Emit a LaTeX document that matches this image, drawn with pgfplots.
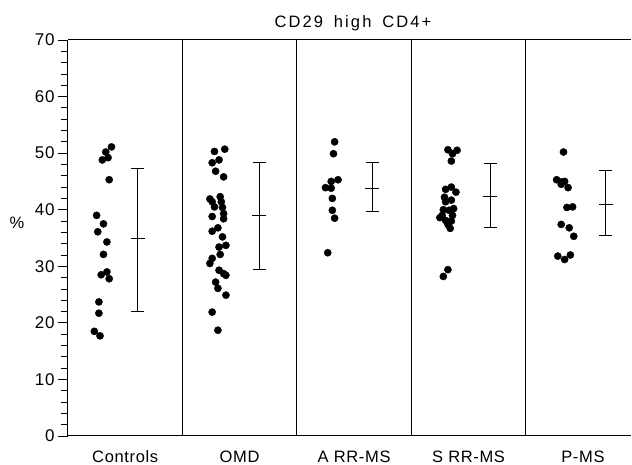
\documentclass[border=0pt]{standalone}
\usepackage{fontspec}
\setmainfont{Liberation Sans}[LetterSpace=4]
\newfontfamily\titlefont{Liberation Sans}[LetterSpace=13,WordSpace=1.6]
\usepackage{pgfplots}
\pgfplotsset{compat=1.18}
\begin{document}
\begin{tikzpicture}[x=1pt,y=1pt,font=\fontsize{16.5}{19}\selectfont]
\begin{axis}[
  scale only axis, width=563pt, height=396pt,
  xmin=0, xmax=4.92, ymin=0, ymax=70,
  axis x line*=box, axis y line*=left,
  axis line style={line width=1pt},
  xtick={0.5,1.5,2.5,3.5,4.5},
  xticklabels={Controls,OMD,A RR-MS,S RR-MS,P-MS},
  x tick style={draw=none},
  xticklabel style={anchor=base, yshift=-16.5pt, inner sep=1pt},
  extra x ticks={1,2,3,4}, extra x tick labels={},
  extra x tick style={grid=major, major grid style={black,line width=0.9pt}, major tick length=0pt},
  ytick={0,10,...,70}, minor y tick num=4,
  tick align=outside, major tick length=10pt, minor tick length=6.5pt,
  y tick style={black,line width=0.8pt},
  yticklabel style={font=\fontsize{17}{19}\selectfont},
  /pgf/number format/assume math mode=true,
  clip=false,
]
% dots
\addplot[only marks, mark=*, mark size=3.6pt, black] coordinates {
 (0.38,51.1) (0.33,50.2) (0.35,49.2) (0.30,48.8) (0.36,45.3) (0.25,39.0) (0.31,37.5)
 (0.26,36.1) (0.34,34.3) (0.31,32.1) (0.34,29.0) (0.29,28.5) (0.36,27.8) (0.27,23.7)
 (0.27,21.7) (0.23,18.5) (0.28,17.7)
};
\addplot[only marks, mark=*, mark size=3.6pt, black] coordinates {
 (1.37,50.7) (1.28,50.3) (1.32,48.8) (1.26,48.3) (1.29,46.8) (1.36,45.8) (1.33,42.3)
 (1.24,41.9) (1.26,41.4) (1.34,41.4) (1.35,40.4) (1.28,40.5) (1.36,39.3) (1.26,38.8)
 (1.36,38.4) (1.31,36.8) (1.26,36.2) (1.35,35.2) (1.38,33.7) (1.32,33.4) (1.33,32.1)
 (1.26,31.4) (1.24,30.5) (1.32,29.3) (1.36,28.7) (1.38,28.4) (1.29,27.2) (1.31,26.1)
 (1.38,24.9) (1.26,21.9) (1.31,18.7)
};
\addplot[only marks, mark=*, mark size=3.6pt, black] coordinates {
 (2.33,52.0) (2.32,49.9) (2.36,45.3) (2.30,45.0) (2.25,43.9) (2.30,43.8) (2.31,42.0)
 (2.31,39.9) (2.33,38.5) (2.27,32.4)
};
\addplot[only marks, mark=*, mark size=3.6pt, black] coordinates {
 (3.32,50.6) (3.40,50.5) (3.36,49.9) (3.35,48.6) (3.35,44.0) (3.30,43.6) (3.39,43.1)
 (3.29,42.2) (3.35,41.7) (3.30,41.4) (3.33,39.9) (3.27,39.0) (3.25,38.6) (3.30,38.1)
 (3.35,38.0) (3.32,37.4) (3.34,36.7) (3.32,29.4) (3.28,28.2) (3.37,40.2) (3.28,40.0)
 (3.36,39.0)
};
\addplot[only marks, mark=*, mark size=3.6pt, black] coordinates {
 (4.33,50.2) (4.27,45.3) (4.31,44.9) (4.34,45.0) (4.31,44.5) (4.37,43.9) (4.36,40.4)
 (4.41,40.5) (4.31,37.4) (4.38,36.8) (4.42,35.3) (4.28,31.8) (4.34,31.2) (4.39,32.0)
};
% mean and range
\addplot[only marks, mark=-, mark size=7pt, black, line width=0.8pt,
  error bars/.cd, y dir=both, y explicit,
  error bar style={line width=0.8pt}, error mark options={rotate=90, mark size=6.5pt, line width=0.8pt}]
  coordinates {
 (0.61,34.9) += (0,12.4) -= (0,12.8)
 (1.67,39.0) += (0,9.4) -= (0,9.5)
 (2.66,43.8) += (0,4.5) -= (0,4.1)
 (3.69,42.4) += (0,5.7) -= (0,5.6)
 (4.70,41.0) += (0,6.0) -= (0,5.5)
};
\node[anchor=base] at (axis cs:2.49,70) [yshift=12.7pt] {\titlefont CD29 high CD4+};
\node at (axis cs:0,37.7) [xshift=-51pt] {\%};
\end{axis}
\pgfresetboundingbox
\path[use as bounding box] (-68,-29) rectangle (564,436);
\end{tikzpicture}
\end{document}
